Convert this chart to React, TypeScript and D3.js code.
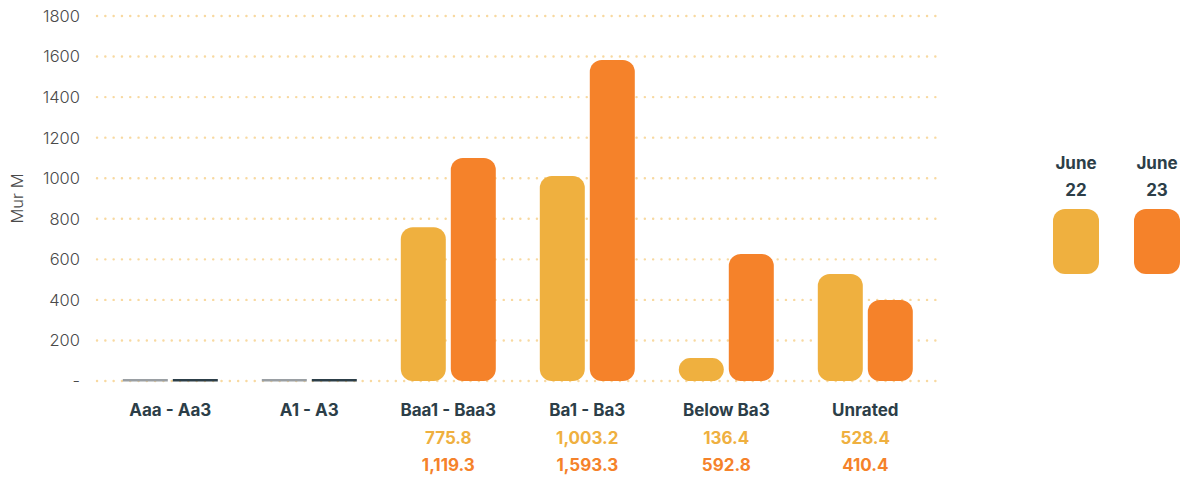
import React from "react";
import * as d3 from "d3";

const categories = ["Aaa - Aa3", "A1 - A3", "Baa1 - Baa3", "Ba1 - Ba3", "Below Ba3", "Unrated"];
const seriesNames = ["June 22", "June 23"];
const june22 = [6, 6, 758, 1011, 113, 528];
const june23 = [6, 6, 1100, 1583, 626, 400];
const june22Labels = ["", "", "775.8", "1,003.2", "136.4", "528.4"];
const june23Labels = ["", "", "1,119.3", "1,593.3", "592.8", "410.4"];
const yTicks = [0, 200, 400, 600, 800, 1000, 1200, 1400, 1600, 1800];

const W = 1186, H = 477;
const C22 = "#EFB03F", C23 = "#F5822A";
const TXT = "#2C3E48";
const FONT = "Inter, 'Open Sans', sans-serif";

export default function App() {
  const x = d3.scaleBand<string>().domain(categories).range([100.8, 934.8]);
  const inner = d3.scaleBand<string>().domain(seriesNames).range([22, 117]).paddingInner(0.1).paddingOuter(0);
  const y = d3.scaleLinear().domain([0, 1800]).range([381, 16]);
  const series = [june22, june23];
  const colors = [C22, C23];
  const smallColors = ["#9a9fa3", "#2C3E48"];
  const bw = inner.bandwidth();
  return (
    <svg width={W} height={H} style={{ position: "absolute", left: 0, top: 0, fontFamily: FONT }}>
      {yTicks.map((t) => (
        <g key={t}>
          <line x1={97} x2={936} y1={y(t)} y2={y(t)} stroke="#F8D9A0" strokeWidth={2.4} strokeDasharray="0.1 8.2" strokeLinecap="round" />
          <text x={80} y={y(t)} dy="0.36em" textAnchor="end" fontSize={16.5} fill="#4a4a4a" fontWeight={300}>{t === 0 ? "-" : t}</text>
        </g>
      ))}
      <text transform={`translate(23,${y(900)}) rotate(-90)`} textAnchor="middle" fontSize={16.5} fill="#4a4a4a" fontWeight={300}>Mur M</text>
      {categories.map((c, i) => (
        <g key={c}>
          {series.map((s, k) => {
            const v = s[i];
            const bx = (x(c) as number) + (inner(seriesNames[k]) as number);
            const top = y(v);
            const h = y(0) - top;
            if (v < 20) {
              return <rect key={k} x={bx} y={y(0) - 2} width={bw} height={2.5} fill={smallColors[k]} />;
            }
            const r = Math.min(12, h / 2);
            return <rect key={k} x={bx} y={top} width={bw} height={h} rx={r} ry={r} fill={colors[k]} />;
          })}
          <text x={(x(c) as number) + x.bandwidth() / 2} y={416} textAnchor="middle" fontSize={17} fontWeight={700} fill={TXT}>{c}</text>
          <text x={(x(c) as number) + x.bandwidth() / 2} y={444} textAnchor="middle" fontSize={17} fontWeight={700} fill={C22}>{june22Labels[i]}</text>
          <text x={(x(c) as number) + x.bandwidth() / 2} y={471} textAnchor="middle" fontSize={17} fontWeight={700} fill={C23}>{june23Labels[i]}</text>
        </g>
      ))}
      {seriesNames.map((n, k) => {
        const cx = 1076 + k * 81;
        const [a, b] = n.split(" ");
        return (
          <g key={n}>
            <text x={cx} y={169} textAnchor="middle" fontSize={17} fontWeight={700} fill={TXT}>{a}</text>
            <text x={cx} y={196} textAnchor="middle" fontSize={17} fontWeight={700} fill={TXT}>{b}</text>
            <rect x={cx - 23} y={209} width={46} height={65} rx={12} ry={12} fill={colors[k]} />
          </g>
        );
      })}
    </svg>
  );
}
